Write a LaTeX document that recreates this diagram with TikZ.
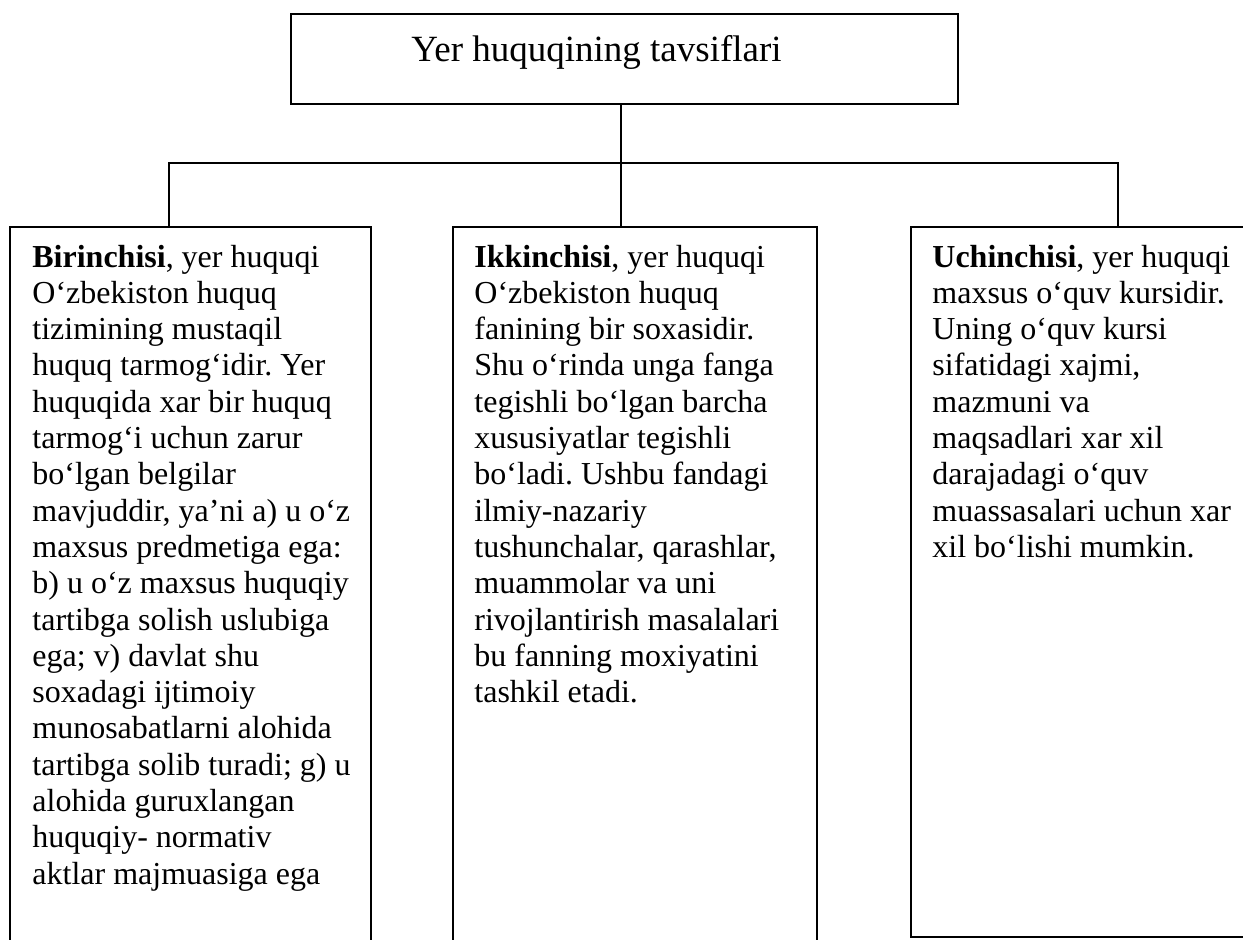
\documentclass[tikz,border=0pt]{standalone}
\usepackage{fontspec}
\setmainfont{Liberation Serif}[Ligatures={TeX,CommonOff}]
\usetikzlibrary{fit}
\frenchspacing

\tikzset{
  frame/.style={draw, line width=0.8pt, inner sep=0pt},
  link/.style={line width=0.8pt},
  bodytext/.style={anchor=base west, inner sep=0pt},
  headtext/.style={anchor=base west, inner sep=0pt, font=\fontsize{18.5}{22}\selectfont},
}
\newcommand{\boxtext}[1]{\parbox[t]{200pt}{\raggedright\fontsize{16}{18.15}\selectfont #1}}

\begin{document}
\begin{tikzpicture}[x=0.5pt, y=-0.5pt]
  \useasboundingbox (0,0) rectangle (1243,939);
  \clip (0,0) rectangle (1243,939);

  % heading box
  \node[frame, fit={(291,14) (958,104)}] (title) {};
  \node[headtext] (titletext) at (411,61) {Yer huquqining tavsiflari};

  % the three description boxes
  \node[frame, fit={(10,227) (371,990)}] (b1) {};
  \node[frame, fit={(453,227) (817,990)}] (b2) {};
  \node[frame, fit={(911,227) (1280,937)}] (b3) {};

  % connector junctions
  \coordinate (jl) at (169,163);
  \coordinate (jm) at (621,163);
  \coordinate (jr) at (1118,163);

  \draw[link] (title.south -| jm) -- (jm);
  \draw[link] (jl |- b1.north) -- (jl) -- (jr) -- (jr |- b3.north);
  \draw[link] (jm) -- (jm |- b2.north);

  % box texts
  \node[bodytext] (t1) at (32,267) {\boxtext{%
    \textbf{Birinchisi}, yer huquqi\\
    O‘zbekiston huquq\\
    tizimining mustaqil\\
    huquq tarmog‘idir. Yer\\
    huquqida xar bir huquq\\
    tarmog‘i uchun zarur\\
    bo‘lgan belgilar\\
    mavjuddir, ya’ni a) u o‘z\\
    maxsus predmetiga ega:\\
    b) u o‘z maxsus huquqiy\\
    tartibga solish uslubiga\\
    ega; v) davlat shu\\
    soxadagi ijtimoiy\\
    munosabatlarni alohida\\
    tartibga solib turadi; g) u\\
    alohida guruxlangan\\
    huquqiy- normativ\\
    aktlar majmuasiga ega}};

  \node[bodytext] (t2) at (474,267) {\boxtext{%
    \textbf{Ikkinchisi}, yer huquqi\\
    O‘zbekiston huquq\\
    fanining bir soxasidir.\\
    Shu o‘rinda unga fanga\\
    tegishli bo‘lgan barcha\\
    xususiyatlar tegishli\\
    bo‘ladi. Ushbu fandagi\\
    ilmiy-nazariy\\
    tushunchalar, qarashlar,\\
    muammolar va uni\\
    rivojlantirish masalalari\\
    bu fanning moxiyatini\\
    tashkil etadi.}};

  \node[bodytext] (t3) at (932,267) {\boxtext{%
    \textbf{Uchinchisi}, yer huquqi\\
    maxsus o‘quv kursidir.\\
    Uning o‘quv kursi\\
    sifatidagi xajmi,\\
    mazmuni va\\
    maqsadlari xar xil\\
    darajadagi o‘quv\\
    muassasalari uchun xar\\
    xil bo‘lishi mumkin.}};
\end{tikzpicture}
\end{document}
